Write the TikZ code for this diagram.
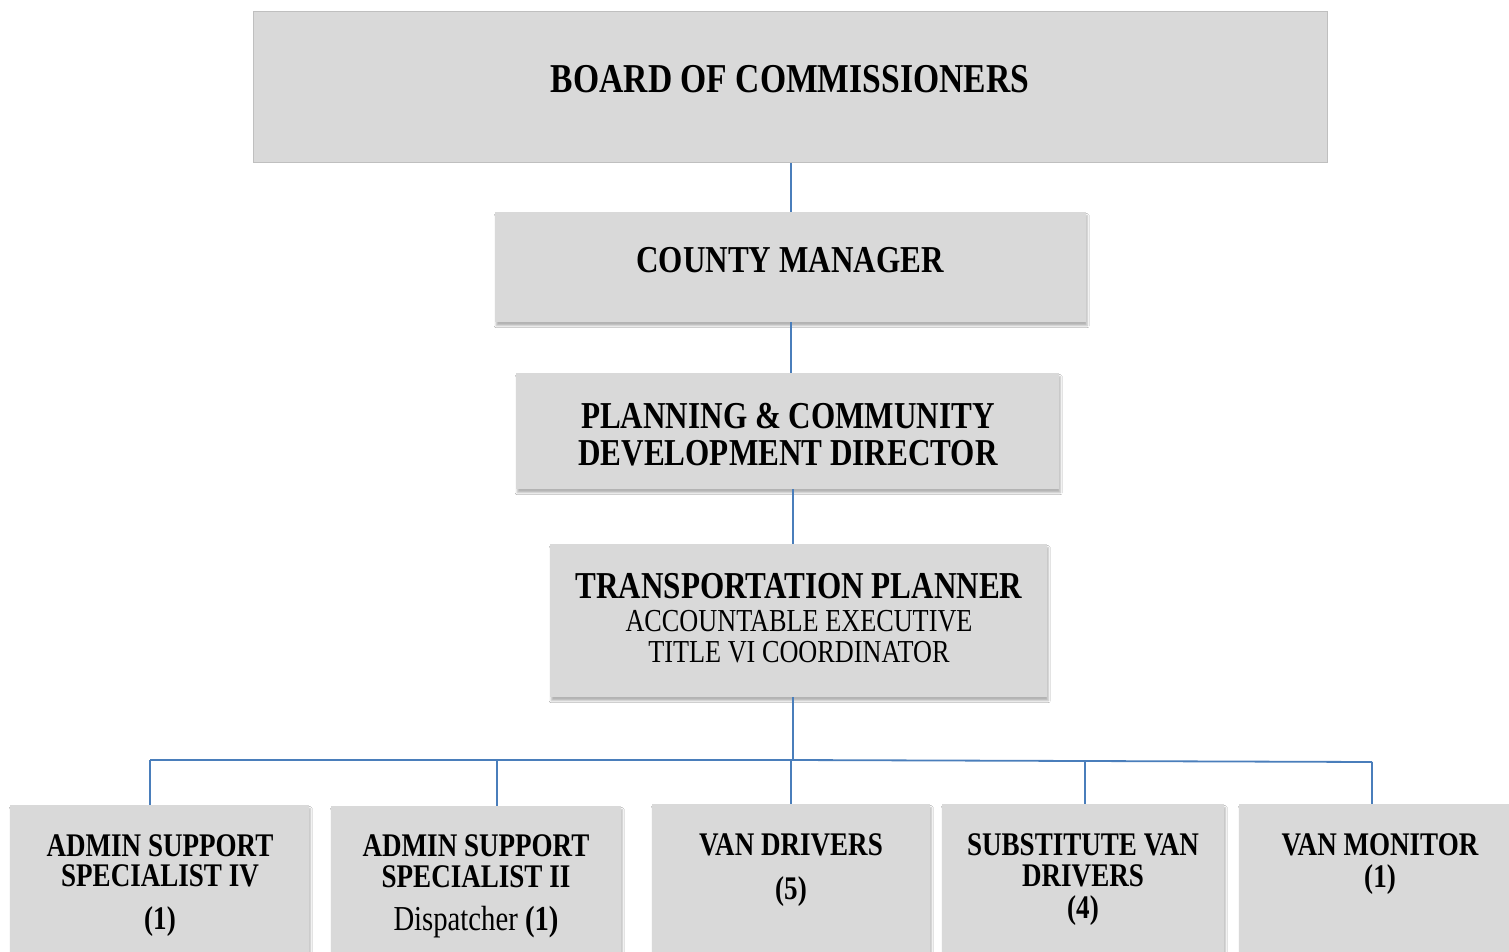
\documentclass[tikz,border=0pt]{standalone}
\usepackage{fontspec}
\setmainfont[FakeStretch=0.82]{Liberation Serif}
\usetikzlibrary{shadows.blur}
\definecolor{boxgray}{HTML}{D9D9D9}
\definecolor{edgegray}{HTML}{BFBFBF}
\definecolor{connblue}{HTML}{4A7EBB}
\tikzset{
  box/.style={fill=boxgray, draw=none, inner sep=0pt, anchor=north west},
  shbox/.style={box, blur shadow={shadow xshift=1pt, shadow yshift=-3.5pt, shadow blur steps=5, shadow blur radius=2pt, shadow opacity=30}},
  conn/.style={draw=connblue, line width=1.8pt},
  big/.style={anchor=base, inner sep=0pt, font=\fontsize{41}{41}\selectfont\bfseries},
  mid/.style={anchor=base, inner sep=0pt, font=\fontsize{38}{38}\selectfont\bfseries},
  midr/.style={anchor=base, inner sep=0pt, font=\fontsize{32}{32}\selectfont},
  sm/.style={anchor=base, inner sep=0pt, font=\fontsize{33}{33}\selectfont\bfseries},
  smr/.style={anchor=base, inner sep=0pt, font=\fontsize{35}{35}\selectfont},
}
\begin{document}
\begin{tikzpicture}[x=1pt, y=-1pt]
\useasboundingbox[fill=white] (0,0) rectangle (1509,952);
% boxes
\node[box, draw=edgegray, line width=1.2pt, minimum width=1074pt, minimum height=151pt] (board) at (253,11) {};
\node[shbox, minimum width=591pt, minimum height=110pt] (cm) at (495,212) {};
\node[shbox, minimum width=543pt, minimum height=116pt] (pl) at (516,373) {};
\node[shbox, minimum width=497pt, minimum height=153pt] (tp) at (550,544) {};
\node[shbox, minimum width=299pt, minimum height=170pt] (a) at (10,805) {};
\node[shbox, minimum width=290pt, minimum height=170pt] (b) at (331,806) {};
\node[shbox, minimum width=278pt, minimum height=170pt] (c) at (652,804) {};
\node[shbox, minimum width=282pt, minimum height=170pt] (d) at (942,804) {};
\node[shbox, minimum width=290pt, minimum height=170pt] (e) at (1239,804) {};
% texts
\node[big] (t-board) at (790,92.5) {BOARD OF COMMISSIONERS};
\node[mid] (t-cm) at (790,272.5) {COUNTY MANAGER};
\node[mid] (t-pl1) at (788,428) {PLANNING \& COMMUNITY};
\node[mid] (t-pl2) at (788,465) {DEVELOPMENT DIRECTOR};
\node[mid] (t-tp1) at (799,598.5) {TRANSPORTATION PLANNER};
\node[midr] (t-tp2) at (799,631) {ACCOUNTABLE EXECUTIVE};
\node[midr] (t-tp3) at (799,662) {TITLE VI COORDINATOR};
\node[sm] (t-a1) at (160,856) {ADMIN SUPPORT};
\node[sm] (t-a2) at (160,886) {SPECIALIST IV};
\node[sm] (t-a3) at (160,929) {(1)};
\node[sm] (t-b1) at (476,856) {ADMIN SUPPORT};
\node[sm] (t-b2) at (476,887) {SPECIALIST II};
\node[smr] (t-b3) at (476,930) {Dispatcher \textbf{(1)}};
\node[sm] (t-c1) at (791,855) {VAN DRIVERS};
\node[sm] (t-c2) at (791,899) {(5)};
\node[sm] (t-d1) at (1083,855) {SUBSTITUTE VAN};
\node[sm] (t-d2) at (1083,886) {DRIVERS};
\node[sm] (t-d3) at (1083,918) {(4)};
\node[sm] (t-e1) at (1380,855) {VAN MONITOR};
\node[sm] (t-e2) at (1380,887) {(1)};
% connectors
\draw[conn] (board.south) -- (board.south |- cm.north);
\draw[conn] (cm.south) -- (cm.south |- pl.north);
\coordinate (bus) at (793,760);
\coordinate (da) at (150,760);
\coordinate (db) at (497,760);
\coordinate (dc) at (791,760);
\coordinate (dd) at (1085,761);
\coordinate (de) at (1372,762);
\draw[conn] (bus |- pl.south) -- (bus |- tp.north);
\draw[conn] (bus |- tp.south) -- (bus);
\draw[conn] (da) -- (db) -- (dc) -- (dd) -- (de);
\draw[conn] (da) -- (da |- a.north);
\draw[conn] (db) -- (db |- b.north);
\draw[conn] (dc) -- (dc |- c.north);
\draw[conn] (dd) -- (dd |- d.north);
\draw[conn] (de) -- (de |- e.north);
\end{tikzpicture}
\end{document}
